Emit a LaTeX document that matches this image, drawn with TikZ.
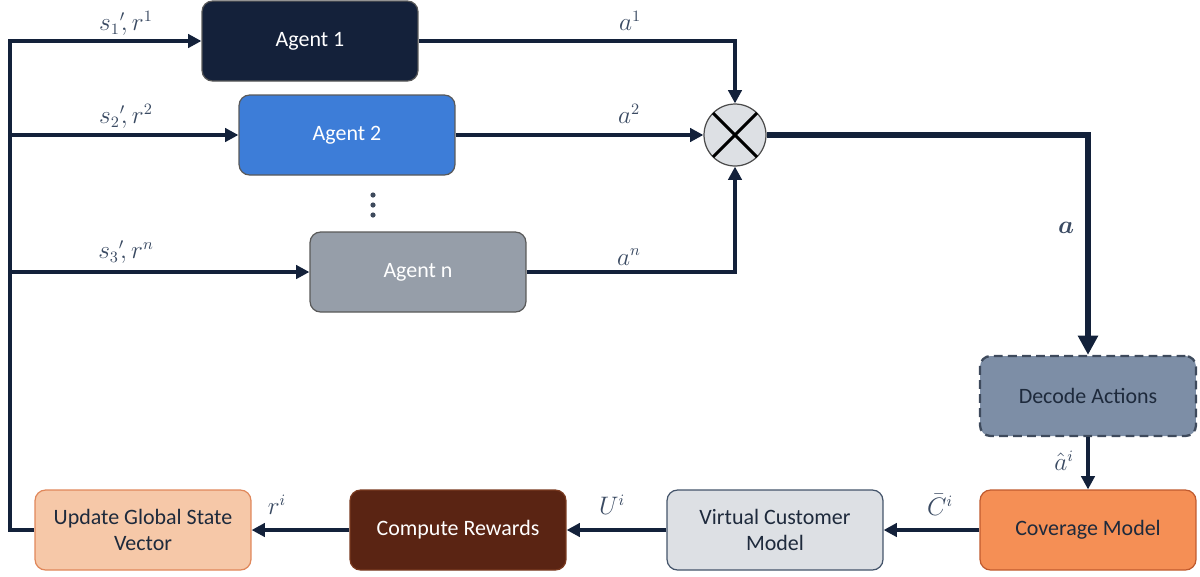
\documentclass[tikz,border=0pt]{standalone}
\usepackage{amsmath}
\usepackage{fontspec}
\setmainfont{Carlito}
\usetikzlibrary{arrows.meta}
\definecolor{agentA}{HTML}{14213A}
\definecolor{agentB}{HTML}{3D7DD8}
\definecolor{agentN}{HTML}{969EA9}
\definecolor{decfill}{HTML}{7D8EA6}
\definecolor{decborder}{HTML}{3E4A5C}
\definecolor{covfill}{HTML}{F58F55}
\definecolor{covborder}{HTML}{C05A2E}
\definecolor{vcmfill}{HTML}{DDE0E4}
\definecolor{vcmborder}{HTML}{44546A}
\definecolor{cmpfill}{HTML}{5A2413}
\definecolor{cmpborder}{HTML}{7A3A20}
\definecolor{updfill}{HTML}{F6C8A8}
\definecolor{updborder}{HTML}{E0875A}
\definecolor{linecol}{HTML}{13213A}
\definecolor{mathcol}{HTML}{3A4A62}
\definecolor{boxtext}{HTML}{1E2A3C}
\tikzset{
  box/.style={rectangle, rounded corners=6pt, minimum width=4.32cm, minimum height=1.6cm,
    draw=#1, line width=0.7pt, align=center, font=\fontsize{12.5}{15}\selectfont, inner sep=2pt},
  box/.default=gray,
  conn/.style={draw=linecol, line width=2.2pt},
  arr/.style={conn, -{Triangle[length=7.5pt,width=7.5pt]}},
  bigarr/.style={draw=linecol, line width=3.6pt, -{Triangle[length=11pt,width=11pt]}},
  lab/.style={text=mathcol, font=\fontsize{13.5}{16}\selectfont, inner sep=1pt},
}
\begin{document}
\begin{tikzpicture}[x=0.02cm, y=-0.02cm]
\useasboundingbox (0,0) rectangle (1200,576);

% agents
\node[box=gray!70!black, fill=agentA, text=white] (ag1) at (310,41) {Agent 1};
\node[box=gray!70!black, fill=agentB, text=white] (ag2) at (347,135) {Agent 2};
\node[box=gray!70!black, fill=agentN, text=white] (agn) at (418,272) {Agent n};

% dots
\fill[decborder] (373,195) circle (2.6) (373,205) circle (2.6) (373,215) circle (2.6);

% mixer
\node[circle, draw=gray!60!black, line width=0.7pt, fill=vcmfill, minimum size=1.24cm, inner sep=0pt] (mix) at (735,135) {};
\draw[black, line width=1.7pt] ([shift={(-22,-22)}]mix.center) -- ([shift={(22,22)}]mix.center);
\draw[black, line width=1.7pt] ([shift={(-22,22)}]mix.center) -- ([shift={(22,-22)}]mix.center);

% right column
\node[box=decborder, fill=decfill, text=boxtext, dash pattern=on 5pt off 3pt, line width=1.3pt] (dec) at (1088,396) {Decode Actions};
\node[box=covborder, fill=covfill, text=boxtext] (cov) at (1088,530) {Coverage Model};
\node[box=vcmborder, fill=vcmfill, text=boxtext] (vcm) at (775,530) {Virtual Customer\\Model};
\node[box=cmpborder, fill=cmpfill, text=white] (cmp) at (458,530) {Compute Rewards};
\node[box=updborder, fill=updfill, text=boxtext] (upd) at (143,530) {Update Global State\\Vector};

% feedback loop
\coordinate (fb) at (10,530);
\coordinate (ft) at (10,41);
\coordinate (f2) at (10,135);
\coordinate (fn) at (10,272);
\draw[arr] (upd.west) -- (fb) -- (ft) -- (ag1.west);
\draw[arr] (f2) -- (ag2.west);
\draw[arr] (fn) -- (agn.west);

% agents to mixer
\draw[arr] (ag1.east) -| (mix.north);
\draw[arr] (ag2.east) -- (mix.west);
\draw[arr] (agn.east) -| (mix.south);

% mixer to decode
\draw[bigarr] (mix.east) -| (dec.north);

% bottom chain
\draw[arr] (dec.south) -- (cov.north);
\draw[arr] (cov.west) -- (vcm.east);
\draw[arr] (vcm.west) -- (cmp.east);
\draw[arr] (cmp.west) -- (upd.east);

% labels
\node[lab] (l1) at (126,23) {${s_1}'\!, r^1$};
\node[lab] (l2) at (126,116) {${s_2}'\!, r^2$};
\node[lab] (l3) at (126,252) {${s_3}'\!, r^n$};
\node[lab] (la1) at (630,21) {$a^1$};
\node[lab] (la2) at (629,114) {$a^2$};
\node[lab] (lan) at (629,257) {$a^n$};
\node[lab] (la) at (1066,228) {$\boldsymbol{a}$};
\node[lab] (lah) at (1064,461) {$\hat{a}^i$};
\node[lab] (lc) at (940,505) {$\bar{C}^i$};
\node[lab] (lu) at (612,505) {$U^i$};
\node[lab] (lr) at (277,505) {$r^i$};
\end{tikzpicture}
\end{document}
